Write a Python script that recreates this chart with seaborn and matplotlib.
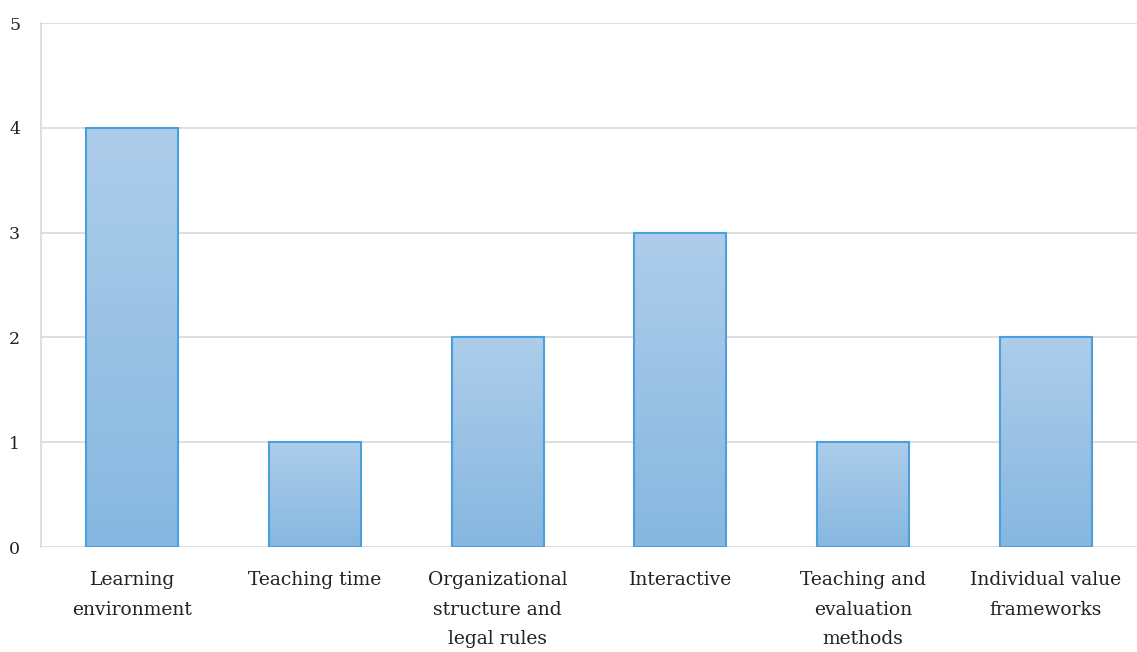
import matplotlib

matplotlib.use("Agg")
import matplotlib.pyplot as plt
import numpy as np
import pandas as pd
import seaborn as sns
from matplotlib.colors import LinearSegmentedColormap

categories = [
    "Learning\nenvironment",
    "Teaching time",
    "Organizational\nstructure and\nlegal rules",
    "Interactive",
    "Teaching and\nevaluation\nmethods",
    "Individual value\nframeworks",
]
counts = [4, 1, 2, 3, 1, 2]
y_ticks = [0, 1, 2, 3, 4, 5]


def main():
    sns.set_theme(style="white")
    plt.rcParams["font.family"] = ["DejaVu Serif"]

    df = pd.DataFrame({"category": categories, "count": counts})

    fig = plt.figure(figsize=(11.37, 6.52), dpi=100)
    ax = fig.add_axes([41 / 1137, 1 - 547 / 652, 1096 / 1137, 524 / 652])

    sns.barplot(
        data=df,
        x="category",
        y="count",
        color="#9fc3e7",
        edgecolor="#4a9fdc",
        linewidth=1.5,
        width=0.505,
        ax=ax,
        zorder=3,
    )

    # vertical gradient inside each bar, light at top, darker at bottom
    cmap = LinearSegmentedColormap.from_list("bargrad", ["#86b7e0", "#adcdea"])
    grad = np.linspace(0, 1, 256).reshape(-1, 1)
    for patch in ax.patches:
        x0, y0 = patch.get_x(), patch.get_y()
        w, h = patch.get_width(), patch.get_height()
        img = ax.imshow(
            grad,
            extent=[x0, x0 + w, y0, y0 + h],
            origin="lower",
            cmap=cmap,
            aspect="auto",
            zorder=3.5,
        )
        img.set_clip_path(patch)
        patch.set_facecolor("none")
        patch.set_zorder(4)

    ax.set_xlim(-0.5, 5.5)
    ax.set_ylim(0, 5)
    ax.set_yticks(y_ticks)
    ax.yaxis.grid(True, color="#d9d9d9", linewidth=1.2, zorder=0)
    ax.set_axisbelow(True)
    for side in ["top", "right", "bottom"]:
        ax.spines[side].set_visible(False)
    ax.spines["left"].set_color("#d9d9d9")
    ax.spines["left"].set_linewidth(1.2)
    ax.set_xlabel("")
    ax.set_ylabel("")
    ax.tick_params(axis="y", length=0, pad=15, labelsize=12.5, labelcolor="#222222")
    ax.tick_params(axis="x", length=0, pad=17, labelsize=13.5, labelcolor="#222222")
    for lbl in ax.get_xticklabels():
        lbl.set_linespacing(1.85)

    fig.savefig("out.png", dpi=100)
    plt.close(fig)


if __name__ == "__main__":
    main()
